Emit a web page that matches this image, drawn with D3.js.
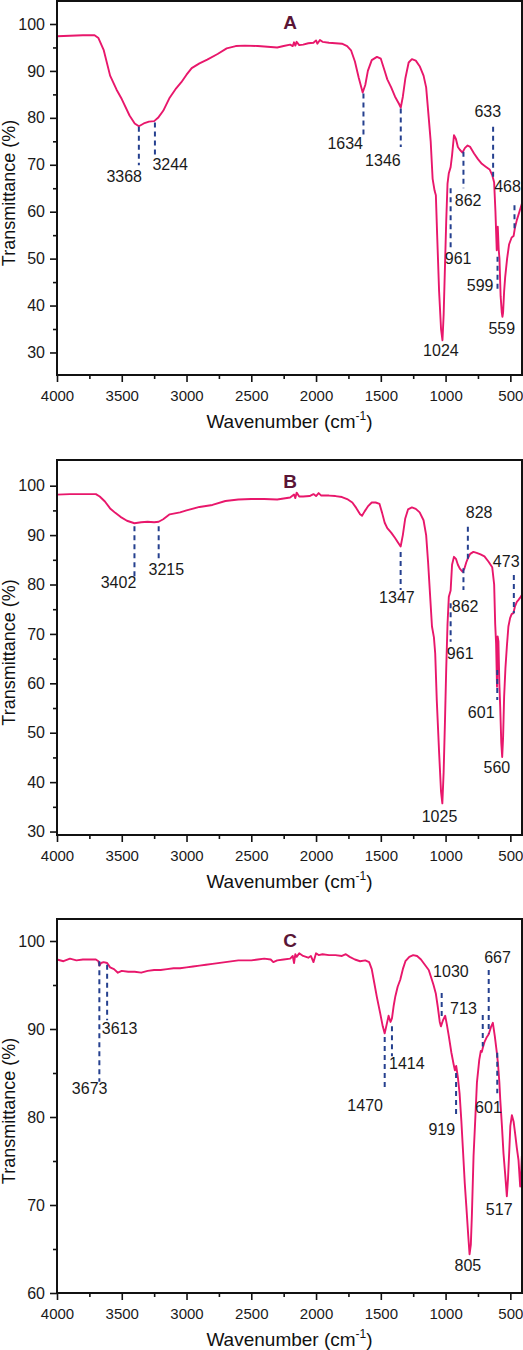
<!DOCTYPE html>
<html>
<head>
<meta charset="utf-8">
<script src="https://cdn.jsdelivr.net/npm/d3@7"></script>
<style>
  body { margin: 0; background: #fff; }
  svg text { font-family: "Liberation Sans", Arial, sans-serif; }
</style>
</head>
<body>
<div id="chart"></div>
<script>
// ---- data: [wavenumber, transmittance] ----
const spectrumA = [
  [4000,97.4],[3900,97.5],[3800,97.6],[3710,97.6],[3680,97.0],[3640,94.5],[3590,89.0],[3540,86.0],
  [3500,84.0],[3440,80.5],[3400,78.8],[3368,78.2],[3330,78.8],[3290,79.2],[3250,79.3],[3220,80.0],
  [3180,81.5],[3130,84.3],[3080,86.3],[3040,87.6],[3000,89.2],[2960,90.6],[2900,91.6],[2840,92.4],
  [2760,93.6],[2690,94.8],[2620,95.3],[2550,95.4],[2450,95.3],[2350,95.1],[2300,95.0],[2250,95.3],
  [2200,95.6],[2180,95.3],[2170,96.1],[2160,95.4],[2150,96.2],[2130,95.5],[2100,95.6],[2060,95.9],
  [2020,96.0],[2000,96.5],[1990,95.8],[1970,96.6],[1950,96.2],[1900,96.0],[1850,95.9],[1800,95.8],
  [1760,95.3],[1730,94.4],[1700,92.0],[1670,88.5],[1640,85.4],[1620,87.0],[1600,90.0],[1570,92.3],
  [1530,93.0],[1500,92.6],[1470,90.0],[1450,88.2],[1420,86.5],[1390,84.5],[1360,83.0],[1346,82.2],
  [1330,84.5],[1310,88.5],[1285,91.8],[1260,92.5],[1230,92.2],[1200,91.0],[1170,89.0],[1150,86.5],
  [1130,80.0],[1115,75.0],[1100,67.0],[1085,64.5],[1075,63.5],[1065,55.0],[1050,43.0],[1035,35.0],
  [1024,32.6],[1015,38.0],[1005,48.0],[995,58.0],[985,66.0],[975,68.2],[961,69.5],[950,72.0],
  [935,76.3],[920,75.5],[905,73.8],[890,73.2],[870,72.6],[850,73.6],[830,74.1],[810,73.8],
  [780,72.4],[750,71.2],[720,70.2],[690,69.6],[660,69.0],[640,67.8],[625,66.2],[615,60.0],
  [605,51.8],[597,56.8],[590,52.0],[584,50.0],[575,42.0],[566,38.5],[561,37.6],[556,38.5],
  [548,43.0],[540,46.0],[525,50.0],[510,53.0],[490,54.5],[475,54.8],[465,56.5],[450,58.2],
  [430,60.0],[410,61.8]
];
const spectrumB = [
  [4000,98.2],[3900,98.3],[3800,98.3],[3700,98.3],[3670,97.8],[3630,96.8],[3590,95.4],[3550,94.5],
  [3510,93.7],[3460,92.9],[3402,92.4],[3350,92.6],[3300,92.7],[3250,92.6],[3215,92.7],[3180,93.2],
  [3130,94.2],[3050,94.6],[3000,95.0],[2900,95.7],[2800,96.1],[2700,96.9],[2600,97.2],[2500,97.3],
  [2400,97.3],[2300,97.2],[2250,97.4],[2200,97.6],[2170,98.2],[2160,97.5],[2150,98.6],[2130,97.8],
  [2100,97.8],[2050,97.9],[2020,98.3],[2000,97.9],[1980,98.5],[1960,98.0],[1900,98.0],[1850,97.9],
  [1800,97.7],[1760,97.3],[1720,96.6],[1690,95.5],[1660,94.2],[1645,93.9],[1625,94.8],[1600,95.8],
  [1570,96.6],[1540,96.6],[1510,96.3],[1490,94.5],[1470,92.5],[1450,91.4],[1420,90.5],[1390,89.4],
  [1365,88.4],[1347,87.7],[1330,90.0],[1312,93.3],[1290,95.2],[1260,95.6],[1230,95.3],[1200,94.6],
  [1170,93.0],[1150,90.0],[1135,84.5],[1120,78.0],[1105,71.5],[1090,69.3],[1080,66.0],[1068,56.6],
  [1050,46.0],[1035,38.0],[1025,35.7],[1015,42.0],[1005,52.0],[995,63.0],[985,72.0],[975,77.5],
  [961,78.8],[950,84.0],[935,85.6],[920,85.2],[905,84.0],[890,83.2],[870,82.6],[855,83.2],
  [840,84.5],[828,85.3],[810,86.2],[785,86.6],[760,86.4],[730,86.1],[700,85.7],[668,84.6],
  [640,83.5],[625,80.0],[617,72.0],[610,68.0],[603,59.3],[598,69.5],[592,68.5],[585,60.0],
  [578,55.0],[570,48.0],[563,45.1],[556,49.0],[548,57.3],[538,63.0],[527,67.4],[515,71.5],
  [502,73.2],[490,74.0],[476,74.2],[465,75.5],[450,76.5],[437,76.9],[420,77.5],[410,77.9]
];
const spectrumC = [
  [4000,97.9],[3950,97.7],[3900,98.0],[3850,97.8],[3800,97.9],[3750,97.9],[3700,97.9],[3680,97.7],
  [3673,97.2],[3660,97.5],[3640,97.6],[3613,97.5],[3590,97.0],[3560,96.8],[3530,96.4],[3500,96.6],
  [3450,96.5],[3400,96.5],[3350,96.4],[3300,96.6],[3250,96.7],[3200,96.7],[3150,96.8],[3100,96.9],
  [3050,96.9],[3000,97.0],[2950,97.1],[2900,97.2],[2850,97.3],[2800,97.4],[2700,97.6],[2600,97.8],
  [2500,97.8],[2450,97.9],[2400,98.0],[2350,97.9],[2330,97.6],[2300,97.8],[2250,97.9],[2200,98.0],
  [2180,98.3],[2170,97.5],[2160,98.5],[2150,98.2],[2130,98.6],[2100,98.3],[2060,98.1],[2040,98.3],
  [2020,97.6],[2000,98.6],[1980,98.4],[1950,98.5],[1900,98.4],[1850,98.4],[1800,98.3],[1770,98.5],
  [1740,98.2],[1700,97.9],[1660,97.7],[1620,97.8],[1590,97.6],[1570,96.8],[1550,95.2],[1530,93.6],
  [1505,91.8],[1485,90.3],[1470,89.5],[1455,90.5],[1440,91.5],[1425,90.8],[1414,91.2],[1400,92.7],
  [1388,93.7],[1370,94.8],[1350,95.6],[1330,96.8],[1310,97.7],[1280,98.2],[1250,98.4],[1220,98.3],
  [1190,97.9],[1160,97.3],[1130,96.7],[1110,95.8],[1093,95.0],[1075,94.0],[1060,92.5],[1045,90.8],
  [1036,90.3],[1020,91.0],[1003,91.5],[990,90.5],[975,89.2],[955,87.3],[938,86.0],[928,85.3],
  [918,85.8],[905,84.5],[892,82.7],[878,79.5],[866,76.3],[852,72.5],[840,69.9],[825,66.5],
  [815,64.4],[805,65.5],[797,68.8],[784,75.6],[770,80.0],[758,83.9],[740,86.5],[728,87.5],
  [720,87.4],[712,87.9],[700,88.5],[681,89.1],[667,89.4],[650,90.2],[635,90.7],[620,89.2],
  [604,87.3],[595,86.0],[585,84.0],[578,82.0],[565,79.0],[553,75.9],[540,73.5],[527,71.0],
  [518,73.0],[507,76.6],[500,79.0],[488,80.2],[475,79.5],[463,78.1],[450,76.5],[437,75.1],
  [424,72.1],[417,73.5],[411,75.6],[404,74.0]
];

// peak marks: [label, wavenumber, dash top T, dash bottom T, label wavenumber, label T]
// dash top/bottom null = label only
const peaksA = [
  ["3368",3368,78.1,69.9,3481,66.3],["3244",3244,79.0,72.0,3126,68.9],
  ["1634",1634,85.2,76.0,1775,73.3],["1346",1346,82.0,73.8,1484,69.7],
  ["1024",1024,null,null,1036,29.2],["961",961,65.0,52.2,903,48.8],
  ["862",862,72.8,65.0,826,61.2],["633",633,78.1,67.4,674,80.2],
  ["599",599,50.4,43.6,733,43.1],["559",559,null,null,566,33.9],
  ["468",468,61.4,56.4,522,64.2]
];
const peaksB = [
  ["3402",3402,91.8,81.6,3525,79.3],["3215",3215,91.8,85.3,3156,81.9],
  ["1347",1347,86.6,78.9,1376,76.3],["1025",1025,null,null,1047,31.9],
  ["961",961,76.2,68.4,887,64.9],["862",862,83.3,78.9,849,74.4],
  ["828",828,91.7,84.6,741,93.5],["601",601,62.7,56.6,725,53.0],
  ["560",560,null,null,604,41.8],["473",473,81.9,74.2,532,83.5]
];
const peaksC = [
  ["3673",3673,97.7,84.0,3748,82.6],["3613",3613,97.3,91.0,3517,89.4],
  ["1470",1470,89.1,83.3,1621,80.7],["1414",1414,90.3,86.9,1299,85.5],
  ["1030",1030,94.1,91.4,959,95.9],["919",919,85.0,79.9,1029,77.9],
  ["805",805,null,null,828,62.5],["713",713,91.6,88.0,862,91.7],
  ["667",667,96.7,89.5,599,97.5],["601",601,87.3,82.7,669,80.5],
  ["517",517,null,null,586,68.9]
];

const xTicks = [4000,3500,3000,2500,2000,1500,1000,500];
const xMinor = [3750,3250,2750,2250,1750,1250,750];
const yTicksA = [30,40,50,60,70,80,90,100];
const yMinorA = [35,45,55,65,75,85,95];
const yTicksB = [30,40,50,60,70,80,90,100];
const yMinorB = [35,45,55,65,75,85,95];
const yTicksC = [60,70,80,90,100];
const yMinorC = [65,75,85,95];

// ---- layout ----
const W = 523, H = 1350;
const left = 57, right = 522;
const panels = [
  {name:"A", data:spectrumA, peaks:peaksA, yDom:[25.2,104.9], yTicks:yTicksA, yMinor:yMinorA, top:1,   bottom:375},
  {name:"B", data:spectrumB, peaks:peaksB, yDom:[29.3,105.2], yTicks:yTicksB, yMinor:yMinorB, top:460, bottom:835},
  {name:"C", data:spectrumC, peaks:peaksC, yDom:[60,102.5],   yTicks:yTicksC, yMinor:yMinorC, top:919, bottom:1293}
];

const svg = d3.select("#chart").append("svg")
  .attr("width", W).attr("height", H)
  .style("background", "#fff");

const lineColor = "#e8176b";
const dashColor = "#25408f";

panels.forEach(function (p) {
  let x = d3.scaleLinear().domain([4000, 410]).range([left, right]);
  let y = d3.scaleLinear().domain(p.yDom).range([p.bottom, p.top]);
  let g = svg.append("g").attr("class", "panel-" + p.name);

  // spectrum
  g.append("path")
    .datum(p.data)
    .attr("fill", "none")
    .attr("stroke", lineColor)
    .attr("stroke-width", 1.9)
    .attr("stroke-linejoin", "round")
    .attr("d", d3.line().x(d => x(d[0])).y(d => y(d[1])));

  // dashed peak marks + labels
  p.peaks.forEach(function (k) {
    if (k[2] !== null) {
      g.append("line")
        .attr("x1", x(k[1])).attr("x2", x(k[1]))
        .attr("y1", y(k[2])).attr("y2", y(k[3]))
        .attr("stroke", dashColor)
        .attr("stroke-width", 2)
        .attr("stroke-dasharray", "5,4");
    }
    g.append("text")
      .attr("x", x(k[4])).attr("y", y(k[5]))
      .attr("text-anchor", "middle")
      .attr("font-size", 16)
      .attr("fill", "#1a1a1a")
      .text(k[0]);
  });

  // axes
  g.append("g").attr("class", "xaxis").attr("transform", "translate(0," + p.bottom + ")")
    .call(d3.axisBottom(x).tickValues(xTicks).tickSize(7).tickPadding(8).tickFormat(d3.format("d")));
  g.append("g").attr("transform", "translate(0," + p.bottom + ")")
    .call(d3.axisBottom(x).tickValues(xMinor).tickSize(4).tickFormat(""));
  g.append("g").attr("class", "yaxis").attr("transform", "translate(" + left + ",0)")
    .call(d3.axisLeft(y).tickValues(p.yTicks).tickSize(7).tickPadding(5));
  g.append("g").attr("transform", "translate(" + left + ",0)")
    .call(d3.axisLeft(y).tickValues(p.yMinor).tickSize(4).tickFormat(""));

  g.selectAll(".domain").remove();
  g.selectAll(".tick line").attr("stroke", "#111").attr("stroke-width", 1.6);
  g.selectAll(".tick text")
    .attr("fill", "#1a1a1a")
    .style("font-family", "'Liberation Sans', Arial, sans-serif");
  g.selectAll(".xaxis .tick text").attr("font-size", 15);
  g.selectAll(".yaxis .tick text").attr("font-size", 16);

  // frame
  g.append("rect")
    .attr("x", left).attr("y", p.top)
    .attr("width", right - left).attr("height", p.bottom - p.top)
    .attr("fill", "none")
    .attr("stroke", "#111")
    .attr("stroke-width", 2);

  // panel letter
  g.append("text")
    .attr("x", x(2200)).attr("y", p.top + 28)
    .attr("text-anchor", "middle")
    .attr("font-size", 19)
    .attr("font-weight", "bold")
    .attr("fill", "#5a1536")
    .text(p.name);

  // axis titles
  let xt = g.append("text")
    .attr("x", (left + right) / 2)
    .attr("y", p.bottom + 53)
    .attr("text-anchor", "middle")
    .attr("font-size", 19)
    .attr("fill", "#111");
  xt.append("tspan").text("Wavenumber (cm");
  xt.append("tspan").attr("font-size", 12).attr("dy", -8).text("-1");
  xt.append("tspan").attr("dy", 8).text(")");

  g.append("text")
    .attr("transform", "translate(15," + ((p.top + p.bottom) / 2 + 5) + ") rotate(-90)")
    .attr("text-anchor", "middle")
    .attr("font-size", 18)
    .attr("fill", "#111")
    .text("Transmittance (%)");
});
</script>
</body>
</html>
